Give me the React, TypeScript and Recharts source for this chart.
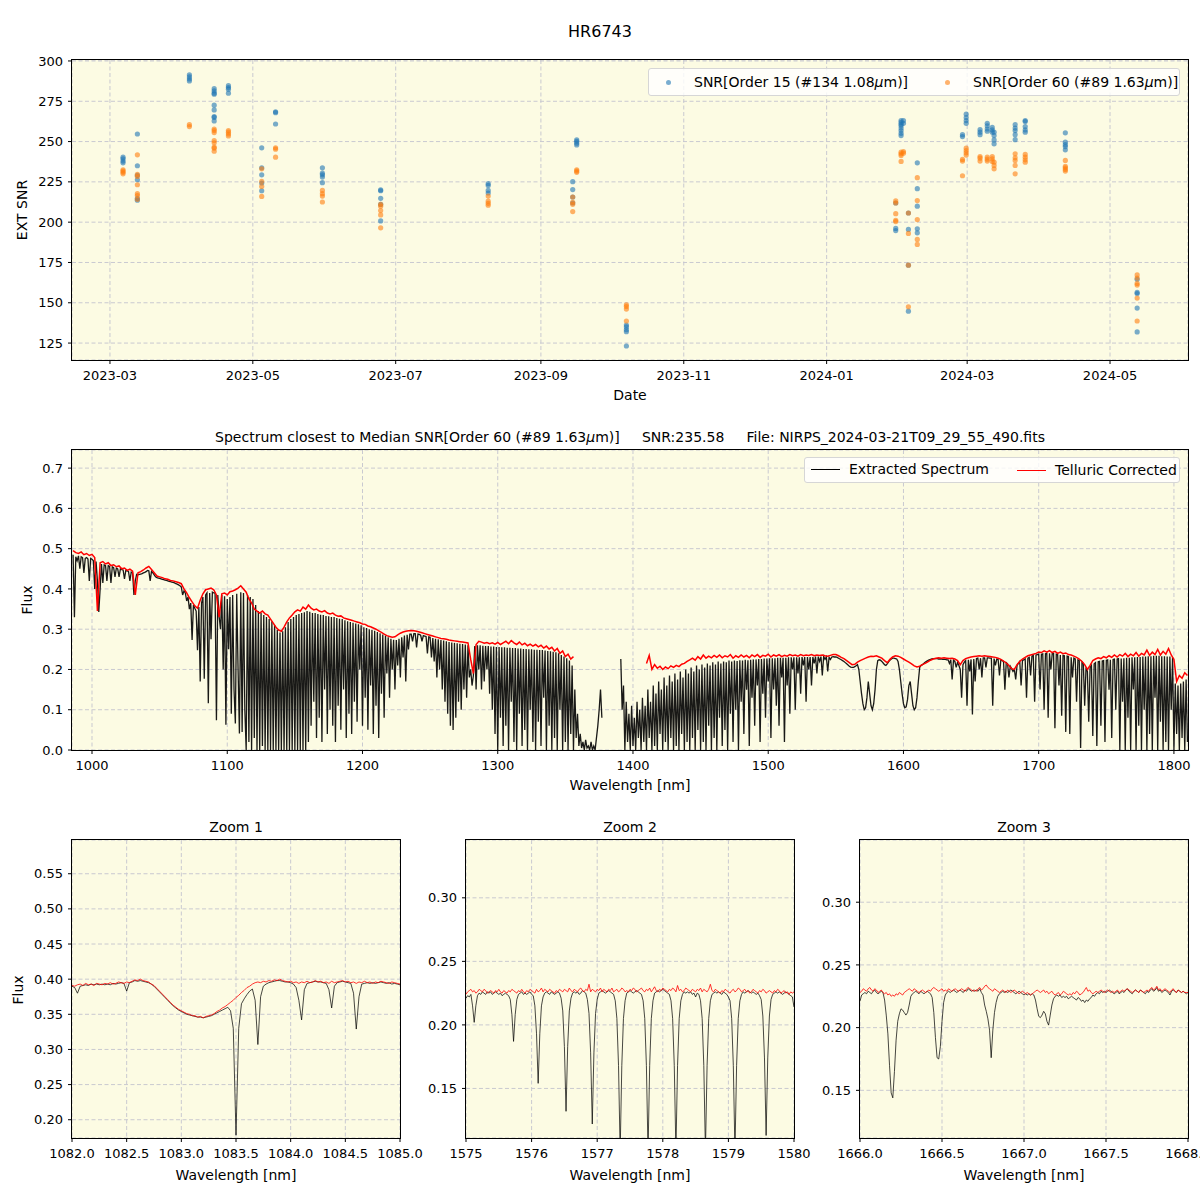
import React from 'react';
import { ScatterChart, Scatter, LineChart, Line, XAxis, YAxis, CartesianGrid } from 'recharts';

const FONT = '"DejaVu Sans", Verdana, sans-serif';
const AX_BG = '#fcfbe3';
const GRID = '#c9c9d0';
const BLUE = '#1f77b4';
const ORANGE = '#ff7f0e';

// ---------- top panel: SNR per observation ----------
const obsTimes = [
  '2023-03-06T14:00Z', '2023-03-12T17:00Z', '2023-04-03T22:00Z', '2023-04-14T12:00Z', '2023-04-20T14:00Z',
  '2023-05-04T19:00Z', '2023-05-10T17:00Z', '2023-05-30T17:00Z', '2023-06-24T14:00Z', '2023-08-09T12:00Z',
  '2023-09-14T14:00Z', '2023-09-16T07:00Z', '2023-10-07T12:00Z', '2024-01-30T12:00Z', '2024-02-01T19:00Z',
  '2024-02-02T19:00Z', '2024-02-04T22:00Z', '2024-02-08T17:00Z', '2024-02-28T00:00Z', '2024-02-29T14:00Z',
  '2024-03-06T12:00Z', '2024-03-09T14:00Z', '2024-03-11T17:00Z', '2024-03-12T12:00Z', '2024-03-21T12:00Z',
  '2024-03-25T19:00Z', '2024-04-11T22:00Z', '2024-05-12T14:00Z',
];

const snrOrder15 = [
  [240.3, 239.3, 237.9, 236.8],
  [254.7, 235, 229, 226.3, 214.8, 213.6],
  [291.4, 290.1, 288.8, 287.6],
  [282.8, 281.4, 280, 279.4, 272.6, 269.6, 265.5, 265, 262.8],
  [284.7, 283.5, 282.5, 280],
  [246.1, 233.7, 229.4, 224.3, 219.5],
  [268.5, 267.9, 260.9],
  [233.7, 230.4, 229.4, 228, 224.5],
  [220, 219.5, 214.8, 211, 200.8],
  [223.9, 222.8, 219.7, 218.1],
  [225.1, 220.2, 215.6, 211.9],
  [251, 250.2, 249, 247.9],
  [136.2, 135, 133.3, 132.1, 123.2],
  [211.9, 196.1, 194.8],
  [263, 261.9, 260.9, 259.9, 258.4, 256.8, 255.1, 253.7],
  [263, 261.3],
  [205.7, 195.5, 173.3, 144.8],
  [236.8, 220.8, 209.9, 195.9, 193.4],
  [254.3, 253.1],
  [267, 264.9, 263, 261.3],
  [257.4, 255.8, 254.3],
  [261.3, 259.7, 257.8, 256.4],
  [258.8, 257.2, 255.8],
  [255.8, 253.7, 251, 248.6],
  [260.5, 258.4, 256.8, 254.3, 251.2],
  [263, 262.4, 259.3, 257.2, 255.8],
  [255.4, 249.6, 248.1, 246.9, 244.9],
  [164.6, 156.4, 155.7, 146.7, 131.9],
];

const snrOrder60 = [
  [232.5, 231.7, 230.9, 230],
  [241.8, 229.6, 228.4, 223.2, 217.7, 216.5, 214.2],
  [260.5, 259.3],
  [257.8, 256.8, 255.6, 250.6, 249.2, 246.5, 245.9, 244],
  [256.8, 255.8, 254.7, 253.5],
  [233.1, 225.3, 222.2, 216],
  [246.1, 245.3, 240.3],
  [219.7, 217.7, 216.2, 212.5],
  [211.1, 209.9, 207.2, 204.5, 196.5],
  [216.2, 213, 211.7, 210.5],
  [215.6, 212.3, 211.1, 206.6],
  [232.5, 231.7, 230.9],
  [148.7, 147.7, 146.1, 138.7],
  [213.2, 211.9, 205.3, 201.2, 200.4],
  [243.4, 242.4, 241.4, 237.7],
  [243.8, 242.8],
  [205.7, 193, 173.3, 147.5],
  [227.6, 213.4, 201.6, 189.3, 186.2],
  [238.9, 237.9, 228.8],
  [245.9, 244.4, 243, 241.6],
  [240.7, 239.7, 237.9],
  [240.3, 239.1, 237.9],
  [240.7, 239.3, 237.7],
  [237.2, 235.2, 233.1],
  [242.4, 239.9, 238.3, 235.2, 230],
  [242, 240.3, 238.7, 237.2],
  [238.3, 234.6, 233.7, 232.7, 231.7],
  [167.3, 165.3, 162, 161, 152.9, 138.7],
];

const monthTicks = ['2023-03-01', '2023-05-01', '2023-07-01', '2023-09-01', '2023-11-01', '2024-01-01', '2024-03-01', '2024-05-01'];
const snrTicks = [125, 150, 175, 200, 225, 250, 275, 300];
const DATE_MIN = Date.UTC(2023, 1, 12, 19);
const DATE_MAX = Date.UTC(2024, 5, 3, 7);

// ---------- middle panel: full spectrum (flux in units of 1e-3) ----------
// extracted spectrum, 1 nm sampling from 986 nm
const BLACK_START = 986;
const blackFlux: (number | null)[] = [
  485, 330, 480, 470, 482, 450, 480, 478, 440, 476, // 986
  478, 474, 420, 476, 474, 470, 400, 468, 420, 343, // 996
  400, 462, 415, 460, 458, 420, 458, 456, 415, 455, // 1006
  453, 430, 452, 450, 430, 450, 448, 447, 425, 446, // 1016
  445, 443, 420, 442, 440, 385, 420, 436, 435, 436, // 1026
  437, 438, 440, 441, 443, 446, 445, 420, 444, 440, // 1036
  435, 430, 428, 427, 426, 425, 424, 423, 422, 421, // 1046
  420, 419, 418, 417, 416, 415, 413, 412, 410, 408, // 1056
  405, 385, 395, 390, 370, 380, 350, 365, 273, 360, // 1066
  352, 345, 248, 355, 170, 365, 380, 177, 385, 390, // 1076
  116, 390, 275, 392, 390, 390, 74, 385, 331, 300, // 1086
  385, 200, 382, 63, 375, 250, 380, 90, 385, 150, // 1096
  66, 388, 200, 41, 392, 45, 390, 100, 0, 385, // 1106
  20, 380, 0, 375, 30, 360, 0, 345, 0, 340, // 1116
  10, 335, 0, 330, 0, 325, 0, 320, 0, 310, // 1126
  0, 298, 0, 292, 0, 295, 0, 305, 0, 318, // 1136
  0, 325, 0, 330, 0, 335, 0, 338, 0, 340, // 1146
  0, 342, 0, 345, 20, 343, 60, 340, 120, 340, // 1156
  30, 338, 80, 336, 20, 335, 150, 333, 40, 332, // 1166
  100, 330, 60, 330, 20, 328, 110, 326, 50, 325, // 1176
  150, 322, 30, 320, 90, 318, 40, 316, 120, 314, // 1186
  70, 312, 200, 310, 60, 305, 130, 303, 50, 300, // 1196
  160, 298, 40, 296, 110, 293, 30, 290, 140, 287, // 1206
  80, 284, 190, 280, 130, 276, 200, 274, 150, 273, // 1216
  210, 276, 180, 280, 230, 284, 170, 286, 250, 288, // 1226
  288, 270, 289, 289, 255, 288, 287, 285, 270, 284, // 1236
  283, 282, 240, 281, 280, 230, 278, 220, 276, 180, // 1246
  275, 200, 273, 150, 272, 120, 270, 90, 268, 60, // 1256
  267, 50, 266, 80, 265, 120, 264, 100, 263, 150, // 1266
  262, 130, 260, 180, 200, 160, 185, 258, 150, 260, // 1276
  200, 260, 150, 259, 170, 258, 200, 258, 140, 257, // 1286
  100, 257, 40, 256, 0, 256, 80, 255, 10, 255, // 1296
  60, 254, 0, 254, 120, 253, 20, 253, 0, 252, // 1306
  90, 252, 10, 251, 50, 251, 0, 250, 100, 250, // 1316
  20, 249, 0, 249, 70, 248, 10, 248, 130, 247, // 1326
  0, 246, 60, 245, 0, 244, 30, 243, 0, 240, // 1336
  100, 236, 0, 232, 20, 228, 0, 222, 40, 210, // 1346
  0, 150, 30, 90, 10, 40, 5, 20, 0, 25, // 1356
  5, 10, 0, 20, 0, 10, 0, 30, 60, 100, // 1366
  150, 80, null, null, null, null, null, null, null, null, // 1376
  null, null, null, null, null, 226, 100, 160, 0, 120, // 1386
  20, 90, 0, 110, 10, 80, 0, 120, 30, 100, // 1396
  0, 130, 20, 110, 0, 150, 30, 120, 0, 160, // 1406
  10, 140, 0, 170, 40, 150, 0, 180, 20, 160, // 1416
  0, 185, 30, 170, 0, 190, 10, 175, 0, 195, // 1426
  40, 180, 0, 200, 20, 190, 0, 205, 30, 195, // 1436
  0, 210, 50, 200, 0, 212, 20, 205, 0, 215, // 1446
  60, 210, 0, 218, 30, 212, 0, 220, 80, 215, // 1456
  10, 220, 50, 218, 0, 222, 90, 220, 20, 222, // 1466
  100, 221, 0, 223, 120, 222, 40, 224, 150, 223, // 1476
  10, 224, 130, 225, 60, 225, 160, 226, 20, 226, // 1486
  140, 227, 80, 227, 170, 228, 30, 228, 150, 228, // 1496
  110, 229, 60, 229, 180, 229, 20, 229, 160, 230, // 1506
  90, 230, 200, 230, 100, 230, 190, 230, 140, 231, // 1516
  210, 231, 120, 231, 200, 231, 160, 231, 215, 232, // 1526
  190, 232, 220, 232, 185, 232, 225, 231, 195, 230, // 1536
  225, 231, 232, 231, 231, 230, 228, 226, 224, 222, // 1546
  220, 217, 214, 211, 208, 206, 205, 205, 207, 209, // 1556
  212, 200, 170, 140, 115, 100, 105, 130, 170, 140, // 1566
  110, 100, 115, 150, 200, 222, 224, 223, 220, 216, // 1576
  212, 210, 214, 219, 223, 226, 228, 228, 227, 226, // 1586
  220, 200, 170, 140, 115, 105, 107, 125, 160, 170, // 1596
  140, 110, 100, 105, 130, 170, 205, 210, 212, 215, // 1606
  218, 220, 222, 224, 225, 226, 227, 227, 227, 227, // 1616
  226, 226, 226, 225, 225, 225, 224, 224, 215, 224, // 1626
  175, 223, 220, 205, 218, 210, 200, 130, 212, 218, // 1636
  222, 110, 224, 195, 225, 88, 226, 170, 227, 228, // 1646
  200, 228, 180, 229, 229, 205, 229, 229, 228, 228, // 1656
  110, 227, 210, 226, 225, 185, 224, 222, 220, 150, // 1666
  217, 214, 180, 208, 202, 195, 200, 175, 210, 215, // 1676
  220, 160, 222, 224, 226, 130, 228, 230, 185, 233, // 1686
  235, 120, 236, 237, 238, 150, 238, 239, 100, 239, // 1696
  240, 80, 240, 200, 239, 239, 54, 238, 237, 160, // 1706
  236, 85, 235, 234, 45, 233, 232, 40, 230, 180, // 1716
  228, 226, 120, 224, 222, 5, 219, 215, 110, 205, // 1726
  195, 70, 205, 210, 35, 214, 217, 10, 219, 220, // 1736
  60, 221, 222, 20, 223, 224, 150, 224, 30, 225, // 1746
  226, 100, 226, 227, 0, 227, 120, 228, 0, 229, // 1756
  80, 229, 0, 230, 150, 230, 0, 231, 60, 231, // 1766
  0, 232, 100, 232, 0, 233, 40, 233, 0, 234, // 1776
  130, 234, 0, 234, 70, 233, 0, 233, 20, 232, // 1786
  0, 232, 100, 230, 0, 165, 40, 160, 0, 165, // 1796
  30, 170, 0, 175, 20, // 1806
];

// telluric corrected spectrum, 2 nm sampling from 986 nm
const RED_START = 986;
const redFlux: (number | null)[] = [
  495, 490, 488, 492, 485, 488, 483, 486, 478, 345, // 986
  465, 468, 462, 465, 458, 460, 455, 457, 450, 452, // 1006
  446, 449, 444, 385, 440, 443, 447, 452, 456, 448, // 1026
  440, 432, 430, 428, 425, 424, 421, 420, 418, 416, // 1046
  413, 400, 390, 378, 368, 358, 352, 372, 388, 398, // 1066
  400, 402, 398, 385, 330, 388, 390, 385, 393, 395, // 1086
  398, 402, 408, 400, 392, 375, 365, 350, 345, 340, // 1106
  345, 338, 335, 325, 315, 305, 298, 295, 305, 318, // 1126
  328, 335, 343, 348, 345, 355, 350, 360, 352, 348, // 1146
  350, 345, 343, 346, 340, 338, 340, 335, 332, 333, // 1166
  328, 326, 324, 322, 320, 318, 316, 313, 312, 308, // 1186
  306, 303, 300, 296, 292, 288, 284, 282, 280, 281, // 1206
  286, 290, 293, 295, 296, 297, 296, 295, 293, 291, // 1226
  289, 287, 285, 283, 281, 279, 277, 276, 275, 273, // 1246
  272, 271, 270, 269, 268, 267, 266, 225, 190, 262, // 1266
  270, 268, 265, 267, 264, 266, 263, 267, 262, 266, // 1286
  270, 264, 272, 266, 262, 268, 261, 265, 259, 263, // 1306
  258, 262, 256, 260, 253, 258, 251, 255, 246, 252, // 1326
  240, 246, 232, 238, 226, 232, null, null, null, null, // 1346
  null, null, null, null, null, null, null, null, null, null, // 1366
  null, null, null, null, null, null, null, null, null, null, // 1386
  null, null, 215, 235, 200, 212, 203, 208, 200, 206, // 1406
  202, 209, 205, 210, 207, 213, 215, 220, 224, 228, // 1426
  223, 232, 226, 236, 228, 233, 229, 235, 230, 236, // 1446
  229, 234, 231, 237, 228, 234, 230, 236, 231, 235, // 1466
  229, 236, 232, 237, 230, 235, 233, 238, 231, 236, // 1486
  233, 237, 232, 235, 233, 237, 234, 236, 233, 237, // 1506
  234, 236, 235, 237, 234, 236, 235, 236, 234, 233, // 1526
  235, 237, 237, 234, 230, 227, 222, 217, 212, 213, // 1546
  218, 222, 225, 228, 231, 233, 232, 234, 231, 228, // 1566
  222, 217, 225, 231, 234, 233, 230, 226, 222, 218, // 1586
  214, 209, 206, 208, 212, 215, 219, 223, 226, 228, // 1606
  229, 228, 229, 228, 227, 228, 226, 222, 212, 222, // 1626
  227, 229, 231, 232, 233, 234, 233, 234, 233, 232, // 1646
  231, 230, 228, 225, 221, 216, 210, 202, 200, 212, // 1666
  220, 226, 230, 234, 236, 238, 240, 243, 242, 246, // 1686
  243, 247, 242, 245, 240, 243, 239, 241, 237, 236, // 1706
  233, 230, 226, 220, 212, 200, 210, 222, 226, 229, // 1726
  227, 232, 229, 234, 230, 236, 231, 237, 233, 240, // 1746
  232, 238, 234, 242, 233, 240, 236, 248, 235, 243, // 1766
  237, 250, 236, 245, 238, 252, 236, 225, 170, 185, // 1786
  178, 192, 185, // 1806
];

// ---------- zoom panels (flux in units of 1e-3) ----------
// Zoom 1: 1082.000 .. 1085.000 nm, step 0.025 nm
const zoom1Black = [
  390, 388, 380, 390, 391, 392, 391, 393, 392, 393,
  392, 393, 392, 393, 392, 394, 393, 394, 395, 394,
  383, 395, 396, 398, 397, 398, 397, 396, 395, 393,
  390, 386, 382, 378, 374, 370, 366, 362, 359, 356,
  354, 352, 350, 349, 348, 347, 346, 346, 345, 346,
  347, 348, 350, 352, 354, 356, 358, 360, 355, 330,
  178, 330, 365, 372, 378, 383, 386, 370, 307, 375,
  390, 393, 395, 396, 397, 398, 398, 397, 396, 396,
  395, 393, 388, 370, 342, 385, 394, 395, 396, 397,
  396, 396, 395, 394, 385, 359, 390, 395, 396, 397,
  396, 395, 394, 380, 329, 375, 393, 394, 395, 394,
  395, 394, 395, 396, 395, 394, 395, 393, 394, 393,
  392,
];
const zoom1Red = [
  391, 390, 392, 393, 391, 394, 392, 393, 391, 394,
  393, 392, 394, 393, 395, 393, 394, 396, 395, 394,
  396, 395, 397, 399, 398, 400, 398, 397, 396, 393,
  391, 387, 383, 379, 375, 371, 367, 363, 360, 357,
  355, 353, 351, 350, 348, 348, 346, 347, 345, 347,
  348, 349, 351, 354, 356, 359, 361, 364, 367, 370,
  374, 377, 381, 384, 388, 390, 393, 395, 396, 395,
  397, 396, 398, 397, 399, 398, 400, 398, 397, 396,
  397, 395, 396, 394, 396, 395, 397, 395, 396, 398,
  396, 397, 395, 396, 394, 397, 395, 396, 397, 398,
  396, 397, 395, 396, 394, 396, 395, 397, 395, 396,
  394, 396, 395, 397, 396, 395, 394, 396, 395, 394,
  393,
];

// Zoom 2: 1575.000 .. 1580.000 nm, step 0.025 nm
const zoom2Black = [
  221, 223, 222, 224, 215, 202, 215, 223, 225, 224, 226, 225, 224, 226, 225, 226, 224, 225, 226, 225,
  224, 225, 223, 224, 225, 224, 223, 220, 208, 187, 208, 220, 224, 225, 226, 224, 225, 224, 225, 226,
  224, 223, 215, 193, 154, 193, 215, 222, 225, 226, 225, 224, 226, 225, 224, 225, 226, 225, 221, 211,
  183, 132, 183, 211, 221, 225, 226, 225, 226, 224, 225, 227, 226, 225, 220, 209, 178, 122, 178, 209,
  220, 225, 226, 227, 226, 225, 226, 227, 226, 225, 224, 219, 205, 168, 100, 168, 205, 219, 225, 226,
  227, 226, 225, 226, 227, 226, 225, 224, 219, 205, 168, 100, 168, 205, 219, 225, 226, 227, 226, 227,
  228, 227, 226, 225, 224, 219, 205, 168, 100, 168, 205, 219, 224, 226, 225, 226, 225, 226, 224, 225,
  222, 225, 224, 219, 205, 168, 100, 168, 205, 219, 224, 225, 226, 225, 226, 225, 224, 226, 225, 224,
  222, 219, 205, 168, 100, 168, 205, 219, 224, 226, 225, 226, 227, 226, 225, 226, 225, 224, 225, 223,
  220, 207, 174, 113, 174, 207, 220, 224, 225, 226, 225, 226, 225, 224, 225, 226, 225, 224, 223, 222,
  214,
];
const zoom2Red = [
  224, 226, 227, 228, 226, 227, 225, 226, 228, 227, 226, 228, 227, 225, 226, 227, 226, 225, 227, 226,
  228, 226, 225, 227, 226, 225, 227, 226, 228, 227, 226, 225, 227, 226, 228, 226, 225, 227, 226, 228,
  227, 226, 225, 228, 226, 227, 229, 226, 228, 227, 226, 228, 227, 226, 225, 227, 226, 228, 227, 226,
  228, 227, 226, 229, 227, 226, 228, 227, 226, 228, 229, 227, 226, 228, 227, 232, 226, 228, 227, 226,
  228, 227, 229, 226, 228, 227, 226, 228, 227, 229, 226, 227, 228, 226, 227, 229, 228, 226, 227, 226,
  228, 227, 229, 228, 226, 227, 228, 229, 227, 226, 228, 227, 229, 226, 228, 230, 227, 226, 228, 227,
  229, 228, 227, 226, 228, 227, 229, 228, 226, 231, 227, 228, 226, 227, 229, 228, 227, 226, 228, 227,
  226, 228, 227, 229, 226, 228, 227, 226, 228, 232, 227, 226, 228, 227, 226, 225, 227, 226, 228, 227,
  226, 225, 227, 228, 226, 227, 229, 228, 226, 227, 228, 226, 227, 225, 226, 228, 227, 226, 225, 227,
  226, 228, 227, 225, 226, 227, 226, 225, 227, 226, 228, 227, 225, 226, 227, 225, 226, 224, 226, 225,
  226,
];

// Zoom 3: 1666.00 .. 1668.00 nm, step 0.01 nm
const zoom3Black = [
  221, 226, 227, 228, 227, 229, 228, 227, 229, 230,
  228, 227, 228, 229, 228, 222, 210, 195, 170, 148,
  144, 165, 190, 205, 211, 215, 214, 212, 210, 212,
  218, 225, 227, 228, 229, 228, 227, 229, 228, 227,
  228, 229, 228, 227, 224, 212, 192, 176, 175, 185,
  205, 220, 226, 228, 229, 228, 229, 230, 229, 228,
  229, 230, 229, 228, 230, 229, 231, 230, 229, 230,
  229, 230, 229, 231, 228, 226, 218, 213, 207, 198,
  176, 198, 212, 220, 225, 227, 228, 229, 228, 229,
  228, 229, 230, 229, 228, 227, 228, 229, 228, 227,
  226, 227, 226, 227, 226, 227, 226, 222, 215, 209,
  208, 210, 213, 211, 205, 202, 210, 218, 223, 225,
  226, 225, 226, 224, 225, 224, 225, 223, 224, 225,
  224, 223, 222, 224, 223, 221, 222, 220, 222, 221,
  223, 224, 226, 225, 227, 228, 227, 229, 228, 229,
  228, 229, 230, 229, 228, 227, 228, 229, 227, 228,
  229, 228, 230, 231, 229, 228, 227, 229, 230, 229,
  228, 230, 229, 228, 227, 229, 228, 230, 231, 229,
  230, 232, 229, 230, 228, 229, 230, 229, 228, 226,
  229, 230, 229, 228, 230, 229, 228, 229, 228, 227,
  228,
];
const zoom3Red = [
  228, 229, 231, 230, 229, 231, 232, 230, 229, 231, 230, 228, 229, 230, 228, 227, 228, 226, 227, 225,
  226, 225, 227, 226, 228, 227, 226, 228, 229, 230, 231, 230, 229, 231, 230, 229, 228, 229, 230, 229,
  228, 229, 230, 229, 231, 232, 231, 230, 229, 230, 231, 229, 230, 229, 231, 230, 229, 230, 231, 230,
  229, 230, 231, 230, 229, 231, 232, 231, 230, 229, 230, 229, 231, 232, 230, 231, 233, 234, 232, 231,
  230, 229, 231, 230, 229, 228, 229, 230, 229, 228, 230, 229, 228, 229, 230, 229, 228, 227, 228, 229,
  228, 227, 228, 227, 226, 227, 228, 229, 230, 229, 228, 229, 230, 228, 229, 227, 228, 229, 227, 226,
  227, 228, 226, 227, 229, 228, 227, 226, 227, 226, 228, 227, 229, 228, 226, 227, 228, 230, 232, 229,
  230, 228, 227, 228, 229, 228, 229, 230, 229, 228, 229, 230, 229, 228, 229, 228, 229, 230, 228, 229,
  230, 229, 230, 231, 230, 229, 228, 229, 230, 229, 228, 230, 229, 228, 229, 230, 229, 231, 232, 230,
  231, 233, 230, 231, 229, 230, 231, 230, 229, 228, 230, 231, 229, 228, 230, 229, 228, 229, 228, 228,
  228,
];

const mainXTicks = [1000, 1100, 1200, 1300, 1400, 1500, 1600, 1700, 1800];
const mainYTicks = [0, 0.1, 0.2, 0.3, 0.4, 0.5, 0.6, 0.7];
const zoom1XTicks = [1082, 1082.5, 1083, 1083.5, 1084, 1084.5, 1085];
const zoom1YTicks = [0.2, 0.25, 0.3, 0.35, 0.4, 0.45, 0.5, 0.55];
const zoom2XTicks = [1575, 1576, 1577, 1578, 1579, 1580];
const zoom3XTicks = [1666, 1666.5, 1667, 1667.5, 1668];
const zoomYTicks = [0.15, 0.2, 0.25, 0.3];

// ---------- helpers ----------
type Rect = { x: number; y: number; w: number; h: number };
type Pt = { w: number; f: number | null };

const toSeries = (vals: (number | null)[], start: number, step: number): Pt[] =>
  vals.map((v, i) => ({ w: +(start + i * step).toFixed(3), f: v === null ? null : v / 1000 }));

const toPoints = (vals: number[][]) =>
  obsTimes.flatMap((d, i) => vals[i].map((v) => ({ t: Date.parse(d), v })));

const fmtMonth = (t: number) => {
  const d = new Date(t);
  return `${d.getUTCFullYear()}-${String(d.getUTCMonth() + 1).padStart(2, '0')}`;
};

const TXT = 14;
const tickStyle = { fill: '#000', fontSize: 13, fontFamily: FONT };
const MARGIN = { top: 10, right: 12, bottom: 0, left: 0 };
const Y_W = 60;
const X_H = 40;

const R_SNR: Rect = { x: 72, y: 60, w: 1116, h: 300 };
const R_SPEC: Rect = { x: 72, y: 450, w: 1116, h: 300 };
const R_Z1: Rect = { x: 72, y: 840, w: 328, h: 298 };
const R_Z2: Rect = { x: 466, y: 840, w: 328, h: 298 };
const R_Z3: Rect = { x: 860, y: 840, w: 328, h: 298 };

const boxStyle = (r: Rect): React.CSSProperties => ({ position: 'absolute', left: r.x - Y_W, top: r.y - MARGIN.top });

function Frame({ r }: { r: Rect }) {
  return (
    <div
      style={{
        position: 'absolute', left: r.x - 1, top: r.y - 1, width: r.w + 2, height: r.h + 2,
        border: '1px solid #000', boxSizing: 'border-box', pointerEvents: 'none',
      }}
    />
  );
}

function Txt({ x, y, size = TXT, rotate = false, children }: { x: number; y: number; size?: number; rotate?: boolean; children: React.ReactNode }) {
  return (
    <div
      style={{
        position: 'absolute', left: x, top: y,
        transform: `translate(-50%, -50%)${rotate ? ' rotate(-90deg)' : ''}`,
        fontFamily: FONT, fontSize: size, lineHeight: 1, whiteSpace: 'pre', color: '#000',
      }}
    >
      {children}
    </div>
  );
}

const dot = (color: string) => (p: any) => (
  <circle cx={p.cx} cy={p.cy} r={2.6} fill={color} fillOpacity={0.6} />
);

const Mu = () => <i>μ</i>;

function SnrPanel() {
  const r = R_SNR;
  return (
    <>
      <div style={boxStyle(r)}>
        <ScatterChart width={Y_W + r.w + MARGIN.right} height={MARGIN.top + r.h + X_H} margin={MARGIN}>
          <CartesianGrid fill={AX_BG} stroke={GRID} strokeDasharray="4 2.5" />
          <XAxis
            type="number" dataKey="t" domain={[DATE_MIN, DATE_MAX]} allowDataOverflow
            ticks={monthTicks.map((m) => Date.parse(m))} tickFormatter={fmtMonth} interval={0}
            axisLine={false} tickLine={{ stroke: '#000' }} tickSize={4} tickMargin={7} tick={tickStyle} height={X_H}
          />
          <YAxis
            type="number" dataKey="v" domain={[114.5, 300.6]} allowDataOverflow ticks={snrTicks} interval={0}
            axisLine={false} tickLine={{ stroke: '#000' }} tickSize={4} tickMargin={5} tick={tickStyle} width={Y_W}
          />
          <Scatter data={toPoints(snrOrder15)} shape={dot(BLUE)} isAnimationActive={false} />
          <Scatter data={toPoints(snrOrder60)} shape={dot(ORANGE)} isAnimationActive={false} />
        </ScatterChart>
      </div>
      <Frame r={r} />
      <div
        style={{
          position: 'absolute', left: 648, top: 68, width: 532, height: 28, boxSizing: 'border-box',
          border: '1px solid #d6d6d6', borderRadius: 3, background: 'rgba(255,255,255,0.8)',
          fontFamily: FONT, fontSize: TXT,
        }}
      >
        <div style={{ position: 'absolute', left: 17, top: 11, width: 5, height: 5, borderRadius: 3, background: BLUE, opacity: 0.6 }} />
        <div style={{ position: 'absolute', left: 45, top: 5, whiteSpace: 'pre' }}>SNR[Order 15 (#134 1.08<Mu />m)]</div>
        <div style={{ position: 'absolute', left: 296, top: 11, width: 5, height: 5, borderRadius: 3, background: ORANGE, opacity: 0.6 }} />
        <div style={{ position: 'absolute', left: 324, top: 5, whiteSpace: 'pre' }}>SNR[Order 60 (#89 1.63<Mu />m)]</div>
      </div>
    </>
  );
}

type SpecProps = {
  r: Rect; black: Pt[]; red: Pt[]; xDomain: [number, number]; yDomain: [number, number];
  xTicks: number[]; yTicks: number[]; xFmt: (v: number) => string; yFmt: (v: number) => string;
  bw: number; rw: number;
};

function SpecPanel({ r, black, red, xDomain, yDomain, xTicks, yTicks, xFmt, yFmt, bw, rw }: SpecProps) {
  return (
    <>
      <div style={boxStyle(r)}>
        <LineChart width={Y_W + r.w + MARGIN.right} height={MARGIN.top + r.h + X_H} margin={MARGIN}>
          <CartesianGrid fill={AX_BG} stroke={GRID} strokeDasharray="4 2.5" />
          <XAxis
            type="number" dataKey="w" domain={xDomain} allowDataOverflow ticks={xTicks} tickFormatter={xFmt} interval={0}
            axisLine={false} tickLine={{ stroke: '#000' }} tickSize={4} tickMargin={7} tick={tickStyle} height={X_H}
          />
          <YAxis
            type="number" domain={yDomain} allowDataOverflow ticks={yTicks} tickFormatter={yFmt} interval={0}
            axisLine={false} tickLine={{ stroke: '#000' }} tickSize={4} tickMargin={5} tick={tickStyle} width={Y_W}
          />
          <Line data={black} dataKey="f" stroke="#000" strokeOpacity={0.9} strokeWidth={bw} dot={false} isAnimationActive={false} />
          <Line data={red} dataKey="f" stroke="#ff0000" strokeWidth={rw} dot={false} isAnimationActive={false} />
        </LineChart>
      </div>
      <Frame r={r} />
    </>
  );
}

const f0 = (v: number) => v.toFixed(0);
const f1 = (v: number) => v.toFixed(1);
const f2 = (v: number) => v.toFixed(2);

export default function App() {
  return (
    <div style={{ position: 'absolute', left: 0, top: 0, width: 1200, height: 1200, background: '#fff', overflow: 'hidden' }}>
      <style>{'.recharts-surface{overflow:visible}'}</style>
      <Txt x={600} y={32} size={16}>HR6743</Txt>

      <SnrPanel />
      <Txt x={22} y={210} rotate>EXT SNR</Txt>
      <Txt x={630} y={395}>Date</Txt>

      <Txt x={630} y={437}>
        Spectrum closest to Median SNR[Order 60 (#89 1.63<Mu />m)]     SNR:235.58     File: NIRPS_2024-03-21T09_29_55_490.fits
      </Txt>
      <SpecPanel
        r={R_SPEC} black={toSeries(blackFlux, BLACK_START, 1)} red={toSeries(redFlux, RED_START, 2)}
        xDomain={[985.2, 1810.4]} yDomain={[0, 0.745]} xTicks={mainXTicks} yTicks={mainYTicks}
        xFmt={f0} yFmt={f1} bw={1.3} rw={1.5}
      />
      <div
        style={{
          position: 'absolute', left: 804, top: 457, width: 376, height: 26, boxSizing: 'border-box',
          border: '1px solid #d6d6d6', borderRadius: 3, background: 'rgba(255,255,255,0.8)',
          fontFamily: FONT, fontSize: TXT,
        }}
      >
        <div style={{ position: 'absolute', left: 6, top: 11, width: 29, height: 1, background: '#000' }} />
        <div style={{ position: 'absolute', left: 44, top: 3, whiteSpace: 'pre' }}>Extracted Spectrum</div>
        <div style={{ position: 'absolute', left: 212, top: 12, width: 29, height: 1, background: '#ff0000' }} />
        <div style={{ position: 'absolute', left: 250, top: 4, whiteSpace: 'pre' }}>Telluric Corrected</div>
      </div>
      <Txt x={27} y={600} rotate>Flux</Txt>
      <Txt x={630} y={785}>Wavelength [nm]</Txt>

      <SpecPanel
        r={R_Z1} black={toSeries(zoom1Black, 1082, 0.025)} red={toSeries(zoom1Red, 1082, 0.025)}
        xDomain={[1082, 1085]} yDomain={[0.174, 0.598]} xTicks={zoom1XTicks} yTicks={zoom1YTicks}
        xFmt={f1} yFmt={f2} bw={0.8} rw={0.8}
      />
      <SpecPanel
        r={R_Z2} black={toSeries(zoom2Black, 1575, 0.025)} red={toSeries(zoom2Red, 1575, 0.025)}
        xDomain={[1575, 1580]} yDomain={[0.111, 0.3455]} xTicks={zoom2XTicks} yTicks={zoomYTicks}
        xFmt={f0} yFmt={f2} bw={0.8} rw={0.8}
      />
      <SpecPanel
        r={R_Z3} black={toSeries(zoom3Black, 1666, 0.01)} red={toSeries(zoom3Red, 1666, 0.01)}
        xDomain={[1666, 1668]} yDomain={[0.112, 0.3496]} xTicks={zoom3XTicks} yTicks={zoomYTicks}
        xFmt={f1} yFmt={f2} bw={0.8} rw={0.8}
      />
      <Txt x={236} y={827}>Zoom 1</Txt>
      <Txt x={630} y={827}>Zoom 2</Txt>
      <Txt x={1024} y={827}>Zoom 3</Txt>
      <Txt x={18} y={990} rotate>Flux</Txt>
      <Txt x={236} y={1175}>Wavelength [nm]</Txt>
      <Txt x={630} y={1175}>Wavelength [nm]</Txt>
      <Txt x={1024} y={1175}>Wavelength [nm]</Txt>
    </div>
  );
}
